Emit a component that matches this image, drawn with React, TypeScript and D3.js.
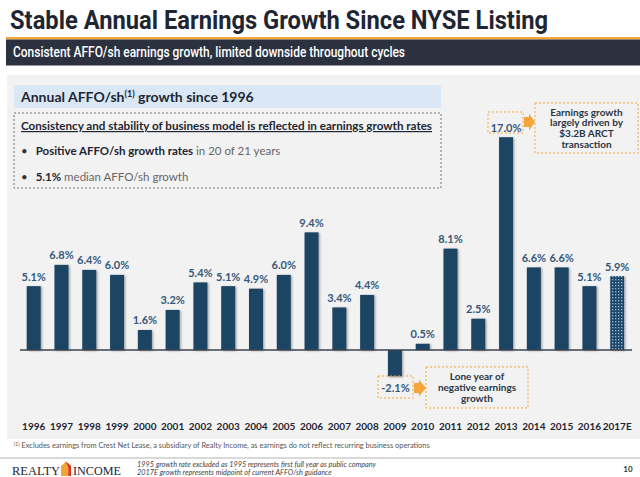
import React from "react";
import * as d3 from "d3";

const years = ["1996","1997","1998","1999","2000","2001","2002","2003","2004","2005","2006","2007","2008","2009","2010","2011","2012","2013","2014","2015","2016","2017E"];
const growth = [5.1,6.8,6.4,6.0,1.6,3.2,5.4,5.1,4.9,6.0,9.4,3.4,4.4,-2.1,0.5,8.1,2.5,17.0,6.6,6.6,5.1,5.9];
const estimateYears = ["2017E"];
const titleText = "Stable Annual Earnings Growth Since NYSE Listing";
const subtitleText = "Consistent AFFO/sh earnings growth, limited downside throughout cycles";
const footnoteText = "Excludes earnings from Crest Net Lease, a subsidiary of Realty Income, as earnings do not reflect recurring business operations";
const footerLines = ["1995 growth rate excluded as 1995 represents first full year as public company", "2017E growth represents midpoint of current AFFO/sh guidance"];

const NAVY = "#1c4463";
const LABEL = "#35597b";
const ORANGE = "#f6a53a";
const CAL = "Lato, 'Open Sans', sans-serif";
const COND = "Roboto, 'Liberation Sans', sans-serif";

export default function App() {
  const W = 640, H = 477;
  const x = d3.scalePoint<string>().domain(years).range([33.7, 617.2]);
  const y = d3.scaleLinear().domain([0, 17]).range([350, 137.2]);
  const bw = 14;
  const fmt = (v: number) => v.toFixed(1) + "%";

  return (
    <svg width={W} height={H} style={{ position: "absolute", left: 0, top: 0, background: "#fff" }}>
      <defs>
        <pattern id="dots" width="3" height="3" patternUnits="userSpaceOnUse">
          <rect width="3" height="3" fill={NAVY} />
          <rect x="0" y="0" width="1.4" height="1.4" fill="#8fb3d0" />
        </pattern>
        <filter id="sh" x="-20%" y="-5%" width="150%" height="115%">
          <feDropShadow dx="1.2" dy="0.8" stdDeviation="0.8" floodColor="#000" floodOpacity="0.35" />
        </filter>
      </defs>
      {/* Title */}
      <text x={10} y={29} fontFamily={COND} fontWeight={700} fontSize={26} fill="#1f2633" textLength={538} lengthAdjust="spacingAndGlyphs">{titleText}</text>
      <rect x={6} y={37} width={634} height={2.5} fill={ORANGE} />
      <rect x={6} y={39.5} width={634} height={26} fill="#2b313e" />
      <text x={13} y={57} fontFamily={COND} fontWeight={500} fontSize={14} fill="#fff" textLength={392} lengthAdjust="spacingAndGlyphs">{subtitleText}</text>

      {/* Panel */}
      <rect x={7} y={75} width={633} height={364} fill="#f2f2f2" />
      <rect x={14} y={85} width={427} height={23} fill="#d9e8f4" />
      <text x={21} y={101.5} fontFamily={CAL} fontWeight={700} fontSize={14} fill="#1f2633">
        Annual AFFO/sh<tspan fontSize={9} dy={-5}>(1)</tspan><tspan dy={5}> growth since 1996</tspan>
      </text>
      <rect x={14} y={113} width={427} height={75} fill="none" stroke="#666" strokeDasharray="2,2" strokeWidth={0.9} />
      <text x={21} y={130} fontFamily={CAL} fontWeight={700} fontSize={12} fill="#1f2633" textLength={411} lengthAdjust="spacingAndGlyphs" textDecoration="underline">Consistency and stability of business model is reflected in earnings growth rates</text>
      <text x={21} y={155} fontFamily={CAL} fontSize={11.5} fill="#333">
        •<tspan dx={8} fontWeight={700} fill="#1f2633">Positive AFFO/sh growth rates</tspan><tspan fill="#666"> in 20 of 21 years</tspan>
      </text>
      <text x={21} y={181} fontFamily={CAL} fontSize={11.5} fill="#333">
        •<tspan dx={8} fontWeight={700} fill="#1f2633">5.1%</tspan><tspan fill="#666"> median AFFO/sh growth</tspan>
      </text>

      {/* Bars */}
      {years.map((yr, i) => {
        const v = growth[i];
        const cx = x(yr)!;
        const top = y(Math.max(0, v));
        const h = Math.abs(y(v) - y(0));
        const est = estimateYears.includes(yr);
        return (
          <g key={yr}>
            <rect x={cx - bw / 2} y={top} width={bw} height={h} fill={est ? "url(#dots)" : NAVY} filter="url(#sh)" />
          </g>
        );
      })}
      <line x1={20} x2={632} y1={y(0)} y2={y(0)} stroke="#3b4250" strokeWidth={1.6} />
      {years.map((yr, i) => {
        const v = growth[i];
        const cx = x(yr)!;
        if (v < 0) return null;
        return (
          <text key={yr} x={cx} y={y(v) - 5.5} textAnchor="middle" fontFamily={CAL} fontWeight={700} fontSize={11} fill={LABEL}>{fmt(v)}</text>
        );
      })}
      {years.map((yr) => (
        <text key={yr} x={x(yr)!} y={430} textAnchor="middle" fontFamily={CAL} fontWeight={700} fontSize={10} fill="#1f2633">{yr}</text>
      ))}

      {/* Annotation 2013 */}
      <rect x={488} y={112} width={35} height={21} fill="none" stroke={ORANGE} strokeDasharray="2,2" />
      <path d="M524,117 L529,117 L529,113.5 L535,122 L529,130.5 L529,127 L524,127 Z" fill={ORANGE} />
      <rect x={535} y={103} width={103} height={50} fill="none" stroke={ORANGE} strokeDasharray="2,2" />
      {["Earnings growth", "largely driven by", "$3.2B ARCT", "transaction"].map((t, i) => (
        <text key={t} x={586.5} y={115.5 + i * 10.8} textAnchor="middle" fontFamily={CAL} fontWeight={700} fontSize={10} fill="#2a3646">{t}</text>
      ))}

      {/* Annotation 2009 */}
      <rect x={378} y={376} width={35} height={22} fill="none" stroke={ORANGE} strokeDasharray="2,2" />
      <text x={395.5} y={392} textAnchor="middle" fontFamily={CAL} fontWeight={700} fontSize={11} fill={LABEL}>{fmt(growth[13])}</text>
      <path d="M414,383 L419,383 L419,379.5 L426,388 L419,396.5 L419,393 L414,393 Z" fill={ORANGE} />
      <rect x={426} y={367} width={102} height={41} fill="none" stroke={ORANGE} strokeDasharray="2,2" />
      {["Lone year of", "negative earnings", "growth"].map((t, i) => (
        <text key={t} x={477} y={379.5 + i * 11.2} textAnchor="middle" fontFamily={CAL} fontWeight={700} fontSize={10} fill="#2a3646">{t}</text>
      ))}

      {/* Footnote */}
      <text x={14} y={448} fontFamily={CAL} fontSize={7.4} fill="#555">
        <tspan fontSize={5} dy={-2.5}>(1)</tspan><tspan dy={2.5} dx={2}>{footnoteText}</tspan>
      </text>
      <line x1={0} x2={640} y1={458} y2={458} stroke="#ccc" strokeWidth={1.5} />

      {/* Logo */}
      <text x={12} y={475} fontFamily="'Liberation Serif', 'DejaVu Serif', serif" fontSize={12.5} fill="#1f2633" textLength={48} lengthAdjust="spacingAndGlyphs">REALTY</text>
      <path d="M61,476 L61,466 L66,461.5 L71,466 L71,476 Z" fill="#f2a23a" />
      <path d="M66,461.5 L71,466 L71,476 L68.5,476 L68.5,468 Z" fill="#d8332a" />
      <text x={73} y={475} fontFamily="'Liberation Serif', 'DejaVu Serif', serif" fontSize={12.5} fill="#1f2633" textLength={48} lengthAdjust="spacingAndGlyphs">INCOME</text>
      {footerLines.map((t, i) => (
        <text key={t} x={137} y={467 + i * 8} fontFamily={CAL} fontStyle="italic" fontSize={7.3} fill="#444">{t}</text>
      ))}
      <text x={628} y={472} textAnchor="middle" fontFamily={CAL} fontWeight={700} fontSize={8} fill="#333">10</text>
    </svg>
  );
}
